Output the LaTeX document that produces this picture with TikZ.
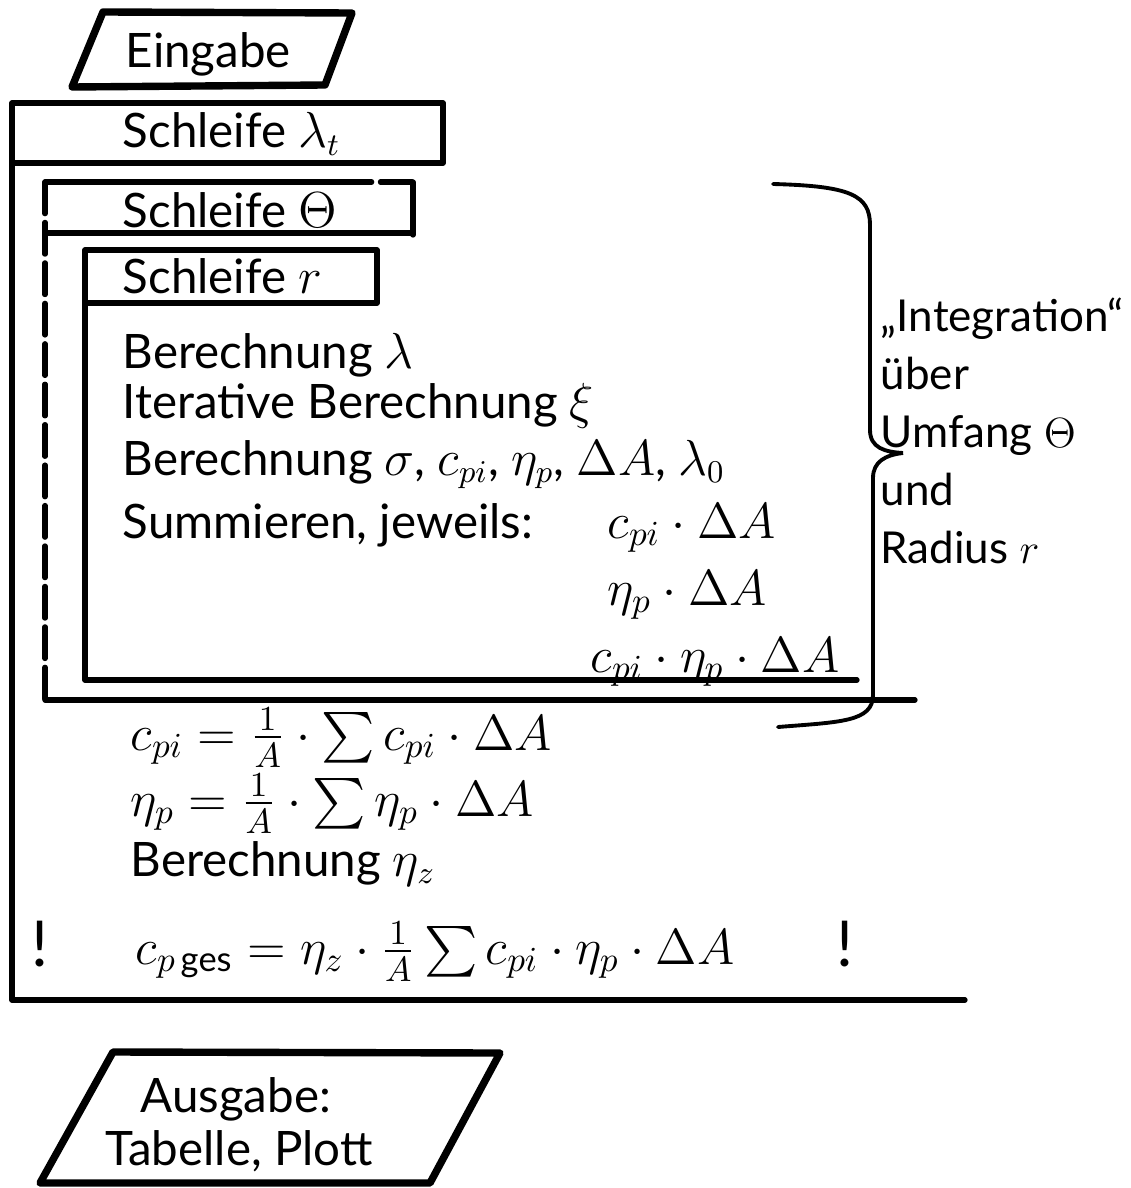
\documentclass[tikz,border=0pt]{standalone}
\usepackage{amsmath}
\usepackage{fontspec}
\setmainfont{Lato}
\usetikzlibrary{positioning}
\tikzset{
 frame/.style={line width=1.5pt,line cap=round,line join=round},
 iobox/.style={frame,line width=2.1pt},
 brokenside/.style={frame,dash pattern=on 9pt off 2.5pt},
 bracket/.style={line width=1.1pt,line cap=round},
 txt/.style={anchor=base west,inner sep=0pt,font=\fontsize{13.5}{15}\selectfont},
 formula/.style={txt,font=\fontsize{14}{16}\selectfont},
 bang/.style={anchor=base,inner sep=0pt,font=\fontsize{18}{20}\selectfont}
}

\begin{document}
\begin{tikzpicture}[x=0.01cm,y=-0.01cm]
\useasboundingbox (0,0) rectangle (1131,1188);
% input
\draw[iobox] (72,87)--(103,12)--(352,13)--(325,85)--cycle;
\node[txt] (eingabe) at (125,68) {Eingabe};
% loop lambda_t
\draw[frame] (12,103) rectangle (443,163);
\draw[frame] (12,163)--(12,1000)--(965,1000);
\node[txt] (loopT) at (122,148) {Schleife $\lambda_t$};
% loop Theta
\draw[frame] (45,182)--(340,182);
\draw[brokenside] (340,182)--(413,182);
\draw[frame] (413,182)--(413,235);
\draw[frame] (48,233)--(413,233);
\draw[brokenside] (45,182)--(45,700);
\draw[frame] (45,700)--(915,700);
\node[txt] (loopTheta) at (122,228) {Schleife $\Theta$};
% loop r
\draw[frame] (85,250) rectangle (377,303);
\draw[frame] (85,303)--(85,680)--(857,680);
\node[txt] (loopR) at (122,293) {Schleife $r$};
% body of loop r
\node[txt] (calcLambda) at (122,368) {Berechnung $\lambda$};
\node[txt] (calcXi) at (122,418) {Iterative Berechnung $\xi$};
\node[txt] (calcSigma) at (122,475) {Berechnung $\sigma$, $c_{pi}$, $\eta_p$, $\Delta A$, $\lambda_0$};
\node[txt] (sumLabel) at (122,538) {Summieren, jeweils:};
\node[formula] (sumA) at (607,538) {$c_{pi}\cdot\Delta A$};
\node[formula] (sumB) at (607,605) {$\eta_p\cdot\Delta A$};
\node[formula] (sumC) at (590,672) {$c_{pi}\cdot\eta_p\cdot\Delta A$};
% after loop Theta
\node[formula] (meanCp) at (130,750) {$c_{pi} = \frac{1}{A}\cdot\sum c_{pi}\cdot\Delta A$};
\node[formula] (meanEta) at (130,816) {$\eta_p = \frac{1}{A}\cdot\sum \eta_p\cdot\Delta A$};
\node[txt] (calcEtaZ) at (130,876) {Berechnung $\eta_z$};
\node[formula] (cpges) at (135,964) {$c_{p\,\mathrm{ges}} = \eta_z\cdot\frac{1}{A}\sum c_{pi}\cdot\eta_p\cdot\Delta A$};
\node[bang] (bangL) at (40,966) {!};
\node[bang] (bangR) at (845,966) {!};
% brace and note
\draw[bracket] (773,184) .. controls (850,186) and (870,195) .. (870,225)
  -- (870,430) .. controls (870,448) and (885,452) .. (903,453)
  .. controls (885,455) and (873,462) .. (873,478)
  -- (873,695) .. controls (873,722) and (840,722) .. (778,727);
\node[txt,anchor=north west,align=left,font=\fontsize{12.5}{16.5}\selectfont] (note) at (880,297)
  {„Integration“\\über\\Umfang $\Theta$\\und\\Radius $r$};
% output
\draw[iobox] (40,1183)--(113,1052)--(500,1053)--(430,1183)--cycle;
\node[txt] (ausgabeA) at (140,1112) {Ausgabe:};
\node[txt] (ausgabeB) at (105,1165) {Tabelle, Plott};
\end{tikzpicture}
\end{document}
